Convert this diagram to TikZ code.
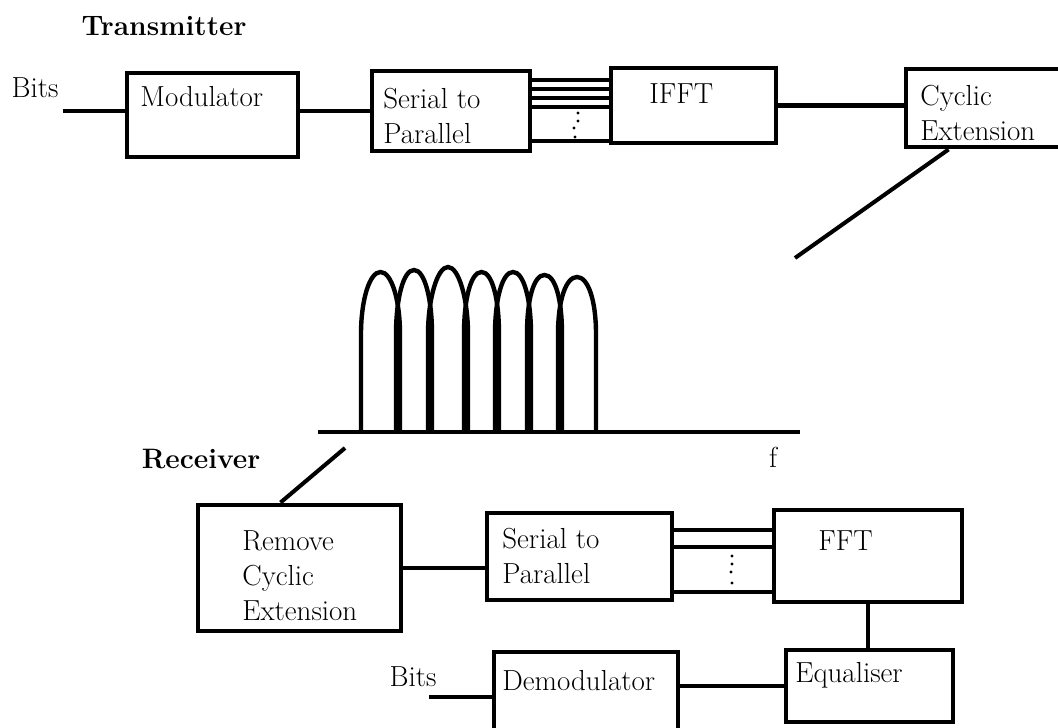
\documentclass[tikz,border=0pt]{standalone}
\usepackage{tikz}

\begin{document}
\begin{tikzpicture}[x=0.2mm,y=-0.2mm,
 every node/.style={font=\fontsize{16.5}{20}\selectfont},
 head/.style={font=\fontsize{16}{19}\selectfont\bfseries},
 blk/.style={draw,line width=2.8pt,inner sep=0pt},
 txt/.style={anchor=north west,align=left,inner sep=0pt},
 conn/.style={line width=2.3pt},
 bus/.style={line width=2pt},
 wave/.style={line width=2.5pt}]
 \useasboundingbox (0,0) rectangle (1058,727);
 \clip (0,0) rectangle (1058,727);
 % transmitter
 \node[head] (tx) at (164,26) {Transmitter};
 \node (bits1) at (35,88) {Bits};
 \node[blk,minimum width=34.2mm,minimum height=16.8mm,
  label={[txt,xshift=3.1mm,yshift=-3.1mm]north west:Modulator}] (mod) at (212.5,115) {};
 \node[blk,minimum width=31.6mm,minimum height=16mm,
  label={[txt,xshift=2.7mm,yshift=-3.9mm]north west:Serial to\\Parallel}] (s2pt) at (451,111) {};
 \node[blk,minimum width=33mm,minimum height=15mm,
  label={[txt,xshift=8.1mm,yshift=-3.5mm]north west:IFFT}] (ifft) at (693.5,105.5) {};
 \node[blk,minimum width=34mm,minimum height=15.6mm,
  label={[txt,xshift=3.3mm,yshift=-3.7mm]north west:Cyclic\\Extension}] (cyc) at (991,108) {};
 \coordinate (bitin) at (63,111);
 \draw[conn] (bitin) -- (bitin -| mod.west);
 \draw[conn] (s2pt.west) -- (s2pt.west -| mod.east);
 \foreach \y in {80,89,98,107,141}
  \draw[bus] (s2pt.east |- 0,\y) -- (ifft.west |- 0,\y);
 \foreach \x/\y in {578/113,578/121,574/128,575/137}
  \fill (\x,\y) circle (1.7);
 \draw[conn] (ifft.east) -- (ifft.east -| cyc.west);
 \coordinate (sp1) at (795,258);
 \draw[conn] (cyc.south west) ++(45,0) -- (sp1);
 % spectrum
 \draw[conn] (318,432) -- (800,432);
 \foreach \xl/\xr/\yt in {363/398/272,398/430/270,430/466/267,466/497/272,
  497/529/272,529/560/275,560/594/277}
  \draw[wave] (\xl-2,432) -- (\xl-2,334) .. controls (\xl-2,300) and ({(\xl+\xr)/2-11},\yt)
   .. ({(\xl+\xr)/2},\yt) .. controls ({(\xl+\xr)/2+11},\yt) and (\xr+2,300)
   .. (\xr+2,334) -- (\xr+2,432);
 \node (f) at (773,457) {f};
 % receiver
 \node[head] (rx) at (201,459) {Receiver};
 \node[blk,minimum width=40.6mm,minimum height=25.2mm,
  label={[txt,xshift=9.3mm,yshift=-5.5mm]north west:Remove\\Cyclic\\Extension}] (rmc) at (299.5,568) {};
 \node[blk,minimum width=37mm,minimum height=17.4mm,
  label={[txt,xshift=3.5mm,yshift=-3.5mm]north west:Serial to\\Parallel}] (s2pr) at (579.5,556.5) {};
 \node[blk,minimum width=37.6mm,minimum height=18.4mm,
  label={[txt,xshift=9.3mm,yshift=-4.5mm]north west:FFT}] (fft) at (868,556) {};
 \node[blk,minimum width=33.4mm,minimum height=14.4mm,
  label={[txt,xshift=2.3mm,yshift=-2.9mm]north west:Equaliser}] (eq) at (869.5,686) {};
 \node[blk,minimum width=36.8mm,minimum height=16.8mm,
  label={[txt,xshift=2.1mm,yshift=-4.1mm]north west:Demodulator}] (demod) at (586,694) {};
 \node (bits2) at (413,677) {Bits};
 \coordinate (sp2) at (345,448);
 \draw[conn] (rmc.north) ++(-19,0) -- (sp2);
 \draw[conn] (rmc.east) -- (rmc.east -| s2pr.west);
 \foreach \y in {530,547,592}
  \draw[bus] (s2pr.east |- 0,\y) -- (fft.west |- 0,\y);
 \foreach \x/\y in {732/556,732/564,731/572,732/583}
  \fill (\x,\y) circle (1.7);
 \draw[conn] (fft.south) -- (fft.south |- eq.north);
 \draw[conn] (eq.west) -- (eq.west -| demod.east);
 \coordinate (bitout) at (429,697);
 \draw[conn] (bitout -| demod.west) -- (bitout);
\end{tikzpicture}
\end{document}
